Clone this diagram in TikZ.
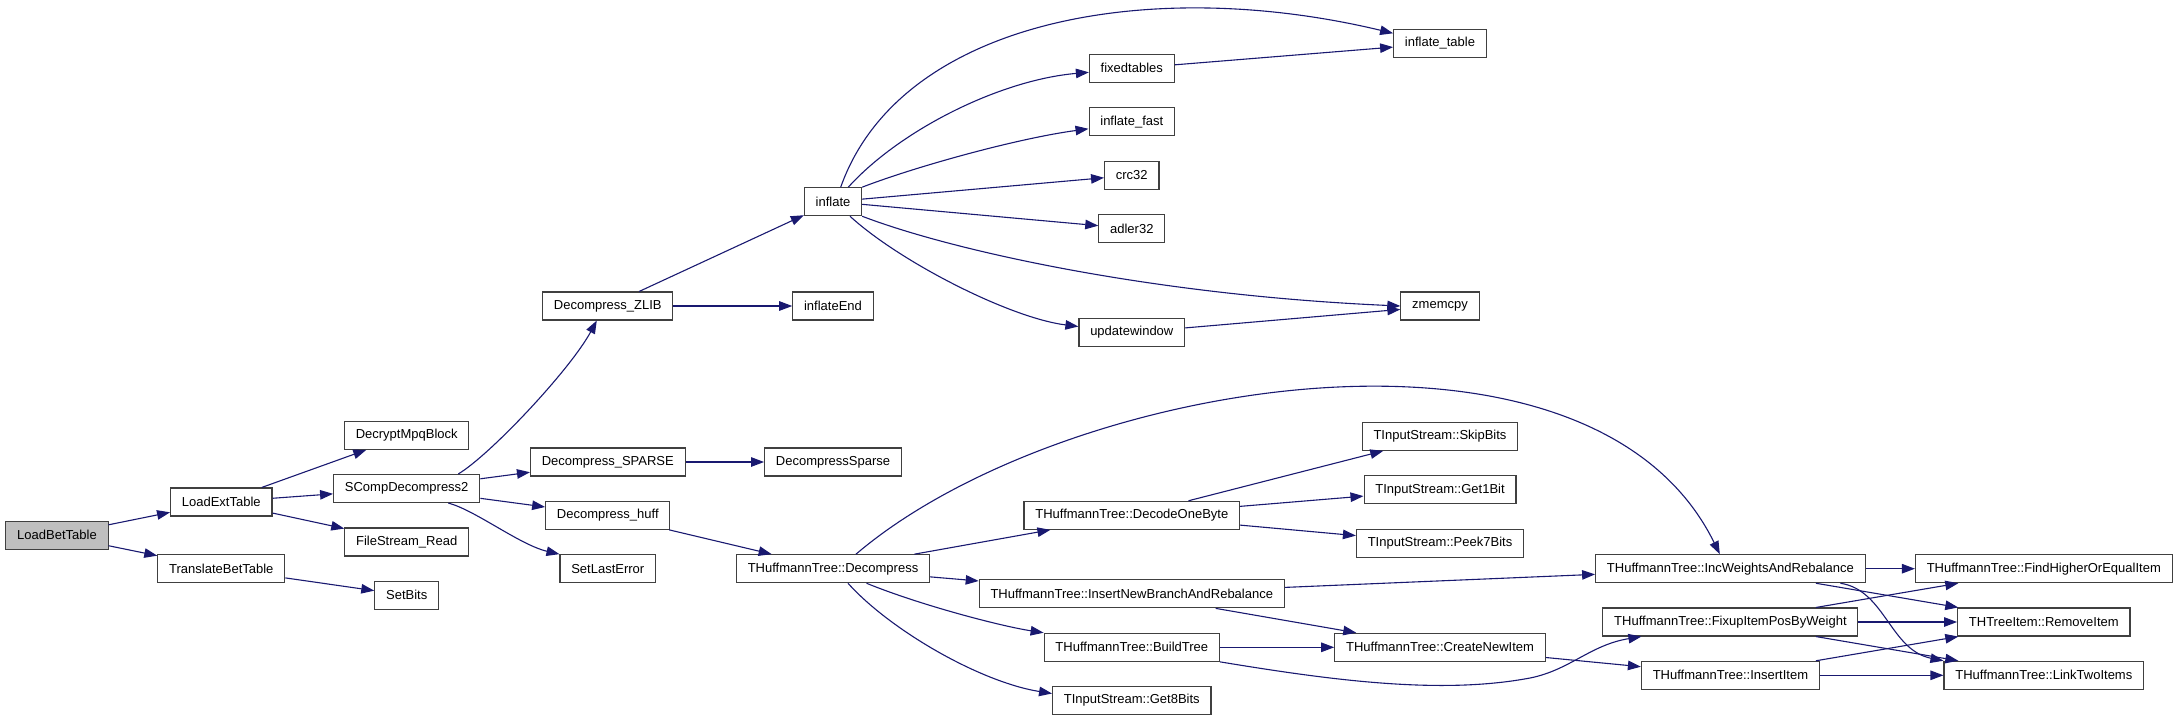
\documentclass[tikz,border=0pt]{standalone}
\usepackage{fontspec}
\setmainfont{Liberation Sans}
\usepackage{xcolor}
\usepackage{tikz}
\usetikzlibrary{arrows.meta}
\definecolor{edgeNavy}{RGB}{25, 25, 112}
\definecolor{rootGray}{RGB}{191, 191, 191}
\definecolor{boxLine}{RGB}{64, 64, 64}

\begin{document}
\begin{tikzpicture}[x=1pt, y=-1pt,
    fn/.style={draw=boxLine, line width=1.1pt, fill=white, inner xsep=11.3pt, inner ysep=0pt, minimum height=28pt, font=\fontsize{13}{15}\selectfont},
    call/.style={-{Triangle[length=13pt, width=9.5pt]}, line width=1.1pt, color=edgeNavy}]
    \useasboundingbox (0,0) rectangle (2179,721);

    % Caller side
    \node[fn, fill=rootGray] (lbt) at (57, 535.2) {LoadBetTable};
    \node[fn] (let) at (221.3, 502) {LoadExtTable};
    \node[fn] (tbt) at (221.3, 568.7) {TranslateBetTable};
    \node[fn] (dmb) at (406.7, 435.3) {DecryptMpqBlock};
    \node[fn] (scd) at (406.7, 488.5) {SCompDecompress2};
    \node[fn] (fsr) at (406.7, 542) {FileStream\_Read};
    \node[fn] (sbt) at (406.7, 595.3) {SetBits};

    % Decompressors
    \node[fn] (dzl) at (607.8, 306) {Decompress\_ZLIB};
    \node[fn] (dsp) at (607.8, 462) {Decompress\_SPARSE};
    \node[fn] (dhf) at (607.8, 515.3) {Decompress\_huff};
    \node[fn] (sle) at (607.8, 568.7) {SetLastError};
    \node[fn] (inf) at (833, 201.7) {inflate};
    \node[fn] (ine) at (833, 306) {inflateEnd};
    \node[fn] (dsps) at (833, 462) {DecompressSparse};
    \node[fn] (htd) at (833, 568.7) {THuffmannTree::Decompress};

    % zlib internals
    \node[fn] (fxt) at (1131.8, 68.3) {fixedtables};
    \node[fn] (ifs) at (1131.8, 121.8) {inflate\_fast};
    \node[fn] (crc) at (1131.8, 175.3) {crc32};
    \node[fn] (adl) at (1131.8, 228.7) {adler32};
    \node[fn] (upw) at (1131.8, 332.5) {updatewindow};
    \node[fn] (ift) at (1440, 43.3) {inflate\_table};
    \node[fn] (zmc) at (1440, 306) {zmemcpy};

    % Huffman tree
    \node[fn] (dob) at (1131.8, 515.3) {THuffmannTree::DecodeOneByte};
    \node[fn] (inb) at (1131.8, 593.8) {THuffmannTree::InsertNewBranchAndRebalance};
    \node[fn] (bld) at (1131.8, 647.3) {THuffmannTree::BuildTree};
    \node[fn] (g8b) at (1131.8, 700.5) {TInputStream::Get8Bits};
    \node[fn] (skb) at (1440, 436.3) {TInputStream::SkipBits};
    \node[fn] (g1b) at (1440, 489.8) {TInputStream::Get1Bit};
    \node[fn] (p7b) at (1440, 543.2) {TInputStream::Peek7Bits};
    \node[fn] (cni) at (1440, 647.3) {THuffmannTree::CreateNewItem};
    \node[fn] (iwr) at (1730.4, 568.7) {THuffmannTree::IncWeightsAndRebalance};
    \node[fn] (fip) at (1730.4, 622) {THuffmannTree::FixupItemPosByWeight};
    \node[fn] (ins) at (1730.4, 675.3) {THuffmannTree::InsertItem};
    \node[fn] (fhe) at (2043.8, 568.7) {THuffmannTree::FindHigherOrEqualItem};
    \node[fn] (rmi) at (2043.8, 622) {THTreeItem::RemoveItem};
    \node[fn] (ltw) at (2043.8, 675.3) {THuffmannTree::LinkTwoItems};

    % Straight calls
    \draw[call] (lbt) -- (let);
    \draw[call] (lbt) -- (tbt);
    \draw[call] (let) -- (dmb);
    \draw[call] (let) -- (scd);
    \draw[call] (let) -- (fsr);
    \draw[call] (tbt) -- (sbt);
    \draw[call] (scd) -- (dsp);
    \draw[call] (scd) -- (dhf);
    \draw[call] (dzl) -- (inf);
    \draw[call] (dzl) -- (ine);
    \draw[call] (dsp) -- (dsps);
    \draw[call] (dhf) -- (htd);
    \draw[call] (inf) -- (crc);
    \draw[call] (inf) -- (adl);
    \draw[call] (fxt) -- (ift);
    \draw[call] (upw) -- (zmc);
    \draw[call] (htd) -- (dob);
    \draw[call] (htd) -- (inb);
    \draw[call] (dob) -- (skb);
    \draw[call] (dob) -- (g1b);
    \draw[call] (dob) -- (p7b);
    \draw[call] (inb) -- (iwr);
    \draw[call] (inb) -- (cni);
    \draw[call] (bld) -- (cni);
    \draw[call] (cni) -- (ins);
    \draw[call] (iwr) -- (fhe);
    \draw[call] (iwr) -- (rmi);
    \draw[call] (fip) -- (fhe);
    \draw[call] (fip) -- (rmi);
    \draw[call] (fip) -- (ltw);
    \draw[call] (ins) -- (rmi);
    \draw[call] (ins) -- (ltw);

    % Curved calls
    \draw[call] ([xshift=51.6pt]scd.north) .. controls (490, 455) and (570, 370) .. ([xshift=-11pt]dzl.south);
    \draw[call] ([xshift=41.6pt]scd.south) .. controls (475, 510) and (520, 545) .. (sle.north west);
    \draw[call] ([xshift=7.7pt]inf.north) .. controls (900, 20) and (1150, -25) .. ([yshift=10pt]ift.west);
    \draw[call] ([xshift=15.3pt]inf.north) .. controls (900, 130) and (1000, 80) .. ([yshift=-4pt]fxt.west);
    \draw[call] (inf.north east) .. controls (920, 165) and (1020, 138) .. ([yshift=-7pt]ifs.west);
    \draw[call] (inf.south east) .. controls (950, 250) and (1150, 295) .. (zmc.west);
    \draw[call] ([xshift=17pt]inf.south) .. controls (900, 262) and (1010, 318) .. ([yshift=6pt]upw.west);
    \draw[call] ([xshift=23pt]htd.north) .. controls (1060, 380) and (1590, 290) .. ([xshift=-10.6pt]iwr.north);
    \draw[call] ([xshift=33.5pt]htd.south) .. controls (920, 605) and (1000, 626) .. (bld.north west);
    \draw[call] ([xshift=15pt]htd.south) .. controls (890, 630) and (980, 682) .. ([yshift=7pt]g8b.west);
    \draw[call] (bld.south east) .. controls (1330, 680) and (1440, 695) .. (1530, 678) .. controls (1570, 670) and (1590, 645) .. ([xshift=39pt]fip.south west);
    \draw[call] ([xshift=110pt]iwr.south) .. controls (1885, 590) and (1890, 650) .. (ltw.north west);
\end{tikzpicture}
\end{document}
